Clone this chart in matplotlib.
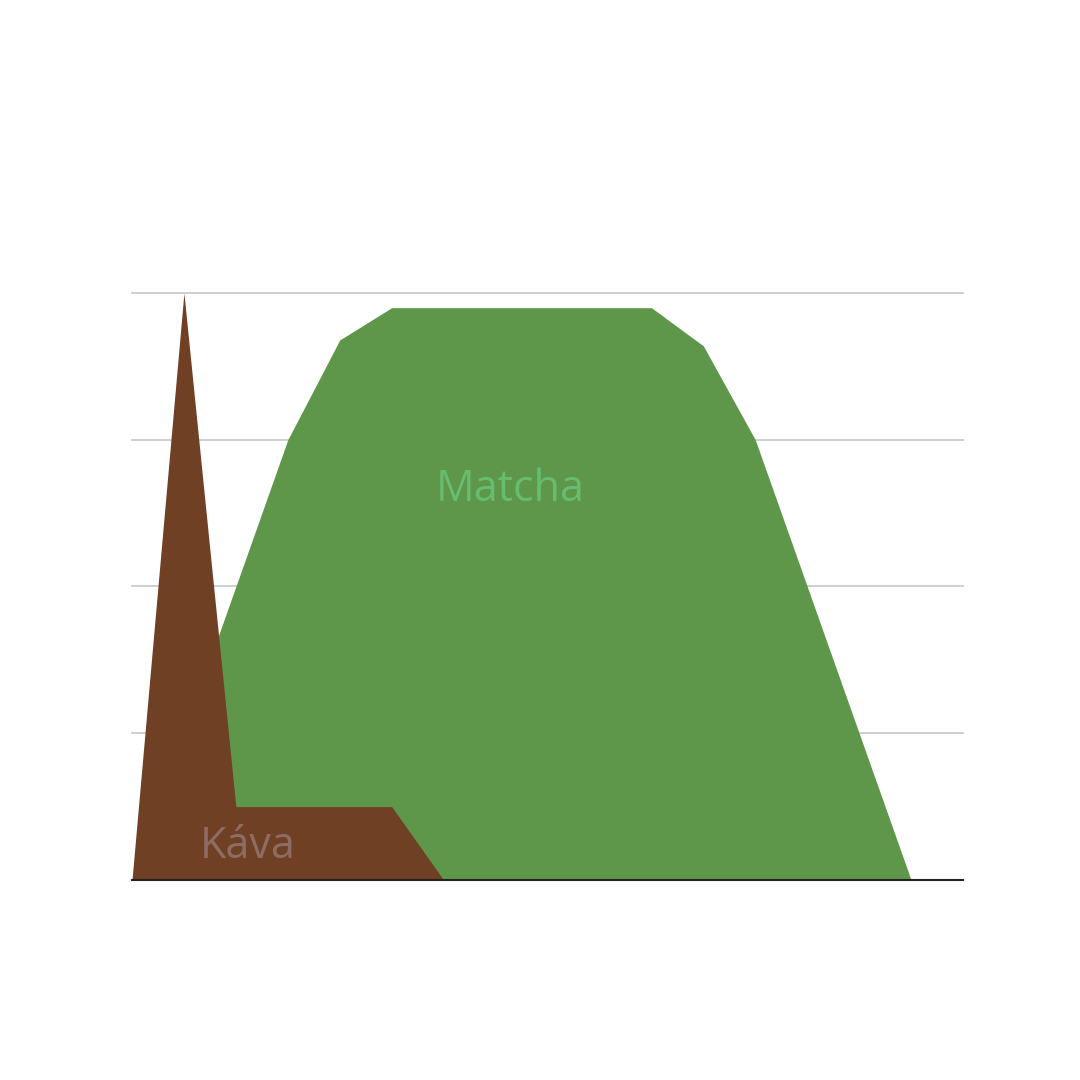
import numpy as np
import matplotlib
matplotlib.use("Agg")
import matplotlib.pyplot as plt

# data (17 evenly spaced points, 0..100 scale)
points = np.arange(17)
kava = [0, 100, 12.5, 12.5, 12.5, 12.5, 0, 0, 0, 0, 0, 0, 0, 0, 0, 0, 0]
matcha = [0, 25, 50, 75, 92, 97.5, 97.5, 97.5, 97.5, 97.5, 97.5, 91, 75, 50, 25, 0, 0]
grid_levels = [25, 50, 75, 100]

plt.rcParams['font.family'] = ['Open Sans', 'DejaVu Sans']

fig = plt.figure(figsize=(10.8, 10.8), dpi=100)
ax = fig.add_axes([0.1222, 0.1852, 0.7695, 0.5435])

# gridlines
for g in grid_levels:
    ax.axhline(g, color='#cccccc', linewidth=1.3, zorder=0, clip_on=False)

ax.fill_between(points, matcha, 0, color='#5e964a', linewidth=0, zorder=1)
ax.fill_between(points, kava, 0, color='#6f4023', linewidth=0, zorder=2)

# baseline
ax.axhline(0, color='#222222', linewidth=1.5, zorder=3, clip_on=False)

# labels inside the areas
ax.text(7.28, 66.5, 'Matcha', color='#66bd6f', fontsize=31, ha='center', va='center', zorder=4)
ax.text(2.23, 5.6, 'Káva', color='#8c6c64', fontsize=31, ha='center', va='center', zorder=4)

ax.set_xlim(0, 16)
ax.set_ylim(0, 100)
ax.set_xticks([])
ax.set_yticks([])
for s in ax.spines.values():
    s.set_visible(False)
ax.patch.set_alpha(0)

fig.savefig('out.png', dpi=100)
